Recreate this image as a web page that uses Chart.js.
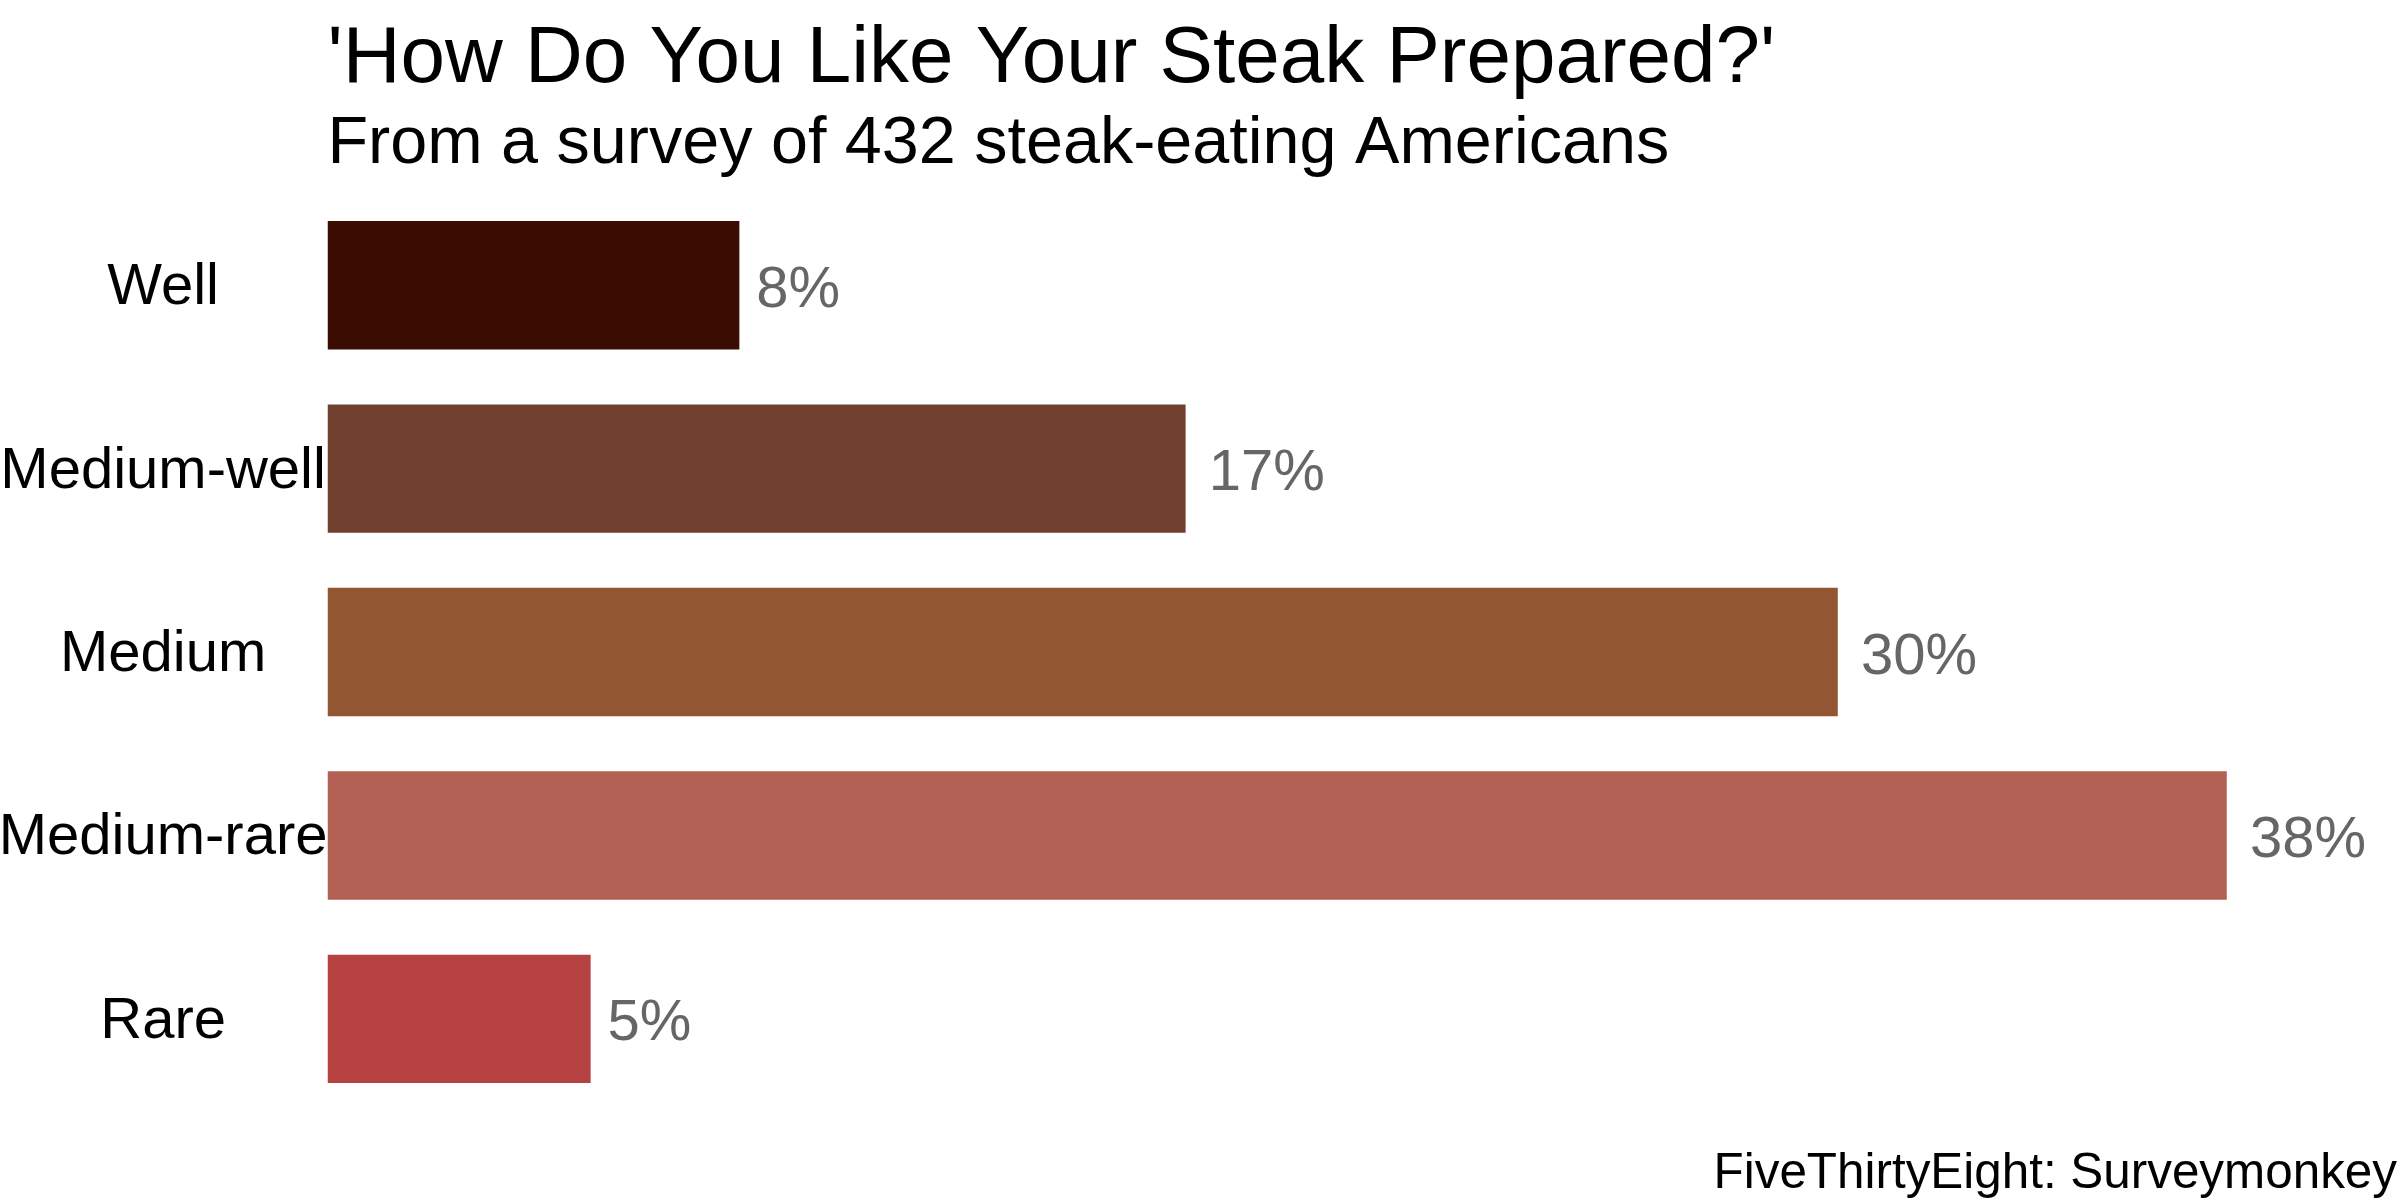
<!DOCTYPE html>
<html>
<head>
<meta charset="utf-8">
<style>
  html, body { margin: 0; padding: 0; background: #ffffff; }
  #wrap { width: 2400px; height: 1200px; position: relative; }
</style>
<script src="https://cdn.jsdelivr.net/npm/chart.js@4.4.1/dist/chart.umd.min.js"></script>
</head>
<body>
<div id="wrap"><canvas id="c" width="2400" height="1200"></canvas></div>
<script>
// ---- data ----
const categories = ['Well', 'Medium-well', 'Medium', 'Medium-rare', 'Rare'];
const percentValues = [8.333, 17.361, 30.556, 38.426, 5.324];
const valueLabels = ['8%', '17%', '30%', '38%', '5%'];
const barColors = ['#3A0C02', '#71402E', '#935632', '#B36154', '#B54141'];
const titleText = "'How Do You Like Your Steak Prepared?'";
const subtitleText = 'From a survey of 432 steak-eating Americans';
const captionText = 'FiveThirtyEight: Surveymonkey';

const FONT = '"Liberation Sans", Arial, Helvetica, sans-serif';

const textPlugin = {
  id: 'texts',
  afterDatasetsDraw(chart) {
    const ctx = chart.ctx;
    const area = chart.chartArea;
    ctx.save();
    // value labels (hjust = -0.2)
    const meta = chart.getDatasetMeta(0);
    ctx.font = '58px ' + FONT;
    ctx.fillStyle = '#666666';
    ctx.textAlign = 'left';
    ctx.textBaseline = 'alphabetic';
    meta.data.forEach((bar, i) => {
      const t = valueLabels[i];
      const w = ctx.measureText(t).width;
      ctx.fillText(t, bar.x + 0.2 * w, bar.y + 21.5);
    });
    // title & subtitle
    ctx.fillStyle = '#000000';
    ctx.font = '80px ' + FONT;
    ctx.fillText(titleText, area.left, 82);
    ctx.font = '66.5px ' + FONT;
    ctx.fillText(subtitleText, area.left, 163);
    // caption
    ctx.font = '49.4px ' + FONT;
    ctx.textAlign = 'right';
    ctx.fillText(captionText, 2397, 1188);
    ctx.restore();
  }
};

new Chart(document.getElementById('c'), {
  type: 'bar',
  data: {
    labels: categories,
    datasets: [{
      data: percentValues,
      backgroundColor: barColors,
      borderWidth: 0,
      categoryPercentage: 1.0,
      barPercentage: 0.7
    }]
  },
  options: {
    indexAxis: 'y',
    responsive: false,
    animation: false,
    devicePixelRatio: 1,
    layout: { padding: { top: 193.5, bottom: 89.4, left: 0, right: 46 } },
    plugins: {
      legend: { display: false },
      tooltip: { enabled: false },
      title: { display: false }
    },
    scales: {
      x: {
        display: false,
        min: 0,
        max: 41,
        grid: { display: false }
      },
      y: {
        grid: { display: false, drawTicks: false },
        border: { display: false },
        ticks: {
          color: '#000000',
          font: { family: FONT, size: 58 },
          crossAlign: 'center',
          padding: 0,
          labelOffset: 3
        },
        afterFit(scale) { scale.width = 327.5; }
      }
    }
  },
  plugins: [textPlugin]
});
</script>
</body>
</html>
